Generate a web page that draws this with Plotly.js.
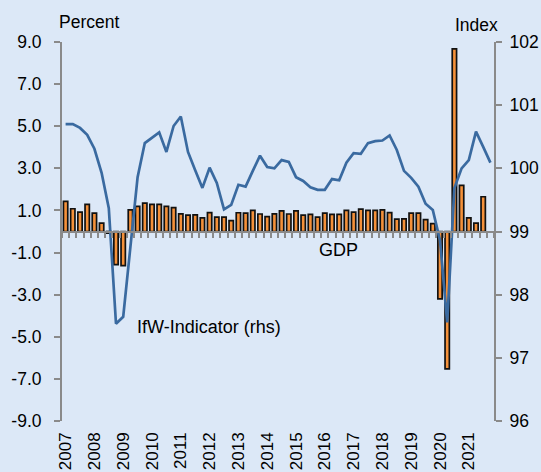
<!DOCTYPE html>
<html>
<head>
<meta charset="utf-8">
<script src="https://cdn.plot.ly/plotly-3.0.1.min.js"></script>
<style>
  html, body { margin: 0; padding: 0; background: #DCE8F7; }
  #chart { width: 541px; height: 472px; }
</style>
</head>
<body>
<div id="chart"></div>
<script>
// ---- Data ----
const years = ['2007','2008','2009','2010','2011','2012','2013','2014','2015','2016','2017','2018','2019','2020','2021'];
const quarterNames = ['Q1','Q2','Q3','Q4'];

// GDP, quarter-on-quarter change, percent (2007Q1 .. 2021Q3)
const gdpValues = [
  1.43, 1.08, 0.92, 1.29, 0.87, 0.40, -0.08, -1.57, -1.62, 1.03,
  1.19, 1.35, 1.29, 1.29, 1.19, 1.13, 0.84, 0.78, 0.79, 0.65,
  0.90, 0.68, 0.68, 0.52, 0.89, 0.87, 1.00, 0.83, 0.71, 0.84,
  0.98, 0.83, 0.98, 0.78, 0.81, 0.68, 0.87, 0.81, 0.81, 1.00,
  0.92, 1.06, 1.00, 1.00, 1.03, 0.90, 0.59, 0.60, 0.87, 0.87,
  0.56, 0.37, -3.20, -6.52, 8.67, 2.19, 0.65, 0.40, 1.65
];

// IfW-Indicator, index (rhs) (2007Q1 .. 2021Q4)
const ifwValues = [
  100.70, 100.70, 100.64, 100.53, 100.31, 99.93, 99.37, 97.54, 97.65, 98.81,
  99.86, 100.40, 100.48, 100.57, 100.26, 100.67, 100.82, 100.26, 99.97, 99.69,
  100.01, 99.77, 99.35, 99.42, 99.74, 99.71, 99.96, 100.20, 100.02, 100.00,
  100.13, 100.10, 99.86, 99.80, 99.70, 99.66, 99.66, 99.83, 99.81, 100.09,
  100.24, 100.23, 100.40, 100.43, 100.44, 100.52, 100.29, 99.96, 99.85, 99.71,
  99.44, 99.34, 98.86, 97.56, 99.69, 100.00, 100.13, 100.58, 100.34, 100.09
];

const leftTickVals = [-9, -7, -5, -3, -1, 1, 3, 5, 7, 9];
const leftTickText = ['-9.0', '-7.0', '-5.0', '-3.0', '-1.0', '1.0', '3.0', '5.0', '7.0', '9.0'];
const rightTickVals = [96, 97, 98, 99, 100, 101, 102];
const rightTickText = ['96', '97', '98', '99', '100', '101', '102'];

// ---- Build ----
const quarters = [];
years.forEach(y => quarterNames.forEach(q => quarters.push(y + q)));
const idx = quarters.map((q, i) => i);
const gdpX = idx.slice(0, gdpValues.length);
const ifwX = idx.slice(0, ifwValues.length);
const yearTickVals = years.map(y => quarters.indexOf(y + 'Q1'));
const boundaryTicks = [-0.5].concat(idx.map(i => i + 0.5));
const xRange = [-0.5, quarters.length - 0.5];

const axisGray = '#8A8A8A';
const fontFamily = 'Liberation Sans, Arial, sans-serif';

const traces = [
  {
    type: 'bar',
    x: gdpX,
    y: gdpValues,
    xaxis: 'x',
    yaxis: 'y',
    width: 0.6,
    marker: { color: '#F5913A', line: { color: '#111111', width: 1.7 } },
    hoverinfo: 'skip',
    showlegend: false
  },
  {
    type: 'scatter',
    mode: 'lines',
    x: ifwX,
    y: ifwValues,
    xaxis: 'x2',
    yaxis: 'y2',
    line: { color: '#3A6AA0', width: 2.7 },
    hoverinfo: 'skip',
    showlegend: false
  }
];

const layout = {
  width: 541,
  height: 472,
  margin: { l: 62, r: 47, t: 42, b: 51 },
  paper_bgcolor: '#DCE8F7',
  plot_bgcolor: '#DCE8F7',
  font: { family: fontFamily, size: 17.5, color: '#000000' },
  showlegend: false,
  bargap: 0,
  xaxis: {
    range: xRange,
    showgrid: false,
    zeroline: false,
    showline: false,
    ticks: '',
    tickvals: yearTickVals,
    ticktext: years,
    tickangle: -90,
    tickfont: { size: 17 },
    ticklabelstandoff: 7
  },
  xaxis2: {
    overlaying: 'x',
    anchor: 'free',
    position: 0.5,
    range: xRange,
    showgrid: false,
    zeroline: false,
    showline: true,
    linecolor: axisGray,
    linewidth: 2,
    ticks: 'outside',
    tickvals: boundaryTicks,
    ticklen: 5,
    tickwidth: 2,
    tickcolor: axisGray,
    showticklabels: false
  },
  yaxis: {
    range: [-9, 9],
    domain: [0, 1],
    showgrid: false,
    zeroline: false,
    showline: true,
    linecolor: axisGray,
    linewidth: 2,
    ticks: 'outside',
    ticklen: 6,
    tickwidth: 2,
    tickcolor: axisGray,
    tickvals: leftTickVals,
    ticktext: leftTickText,
    ticklabelstandoff: 9
  },
  yaxis2: {
    overlaying: 'y',
    side: 'right',
    anchor: 'x',
    range: [96, 102],
    showgrid: false,
    zeroline: false,
    showline: true,
    linecolor: axisGray,
    linewidth: 2,
    ticks: 'outside',
    ticklen: 6,
    tickwidth: 2,
    tickcolor: axisGray,
    tickvals: rightTickVals,
    ticktext: rightTickText,
    ticklabelstandoff: 4
  },
  annotations: [
    { text: 'Percent', xref: 'paper', yref: 'paper', x: -0.012, y: 1.052, xanchor: 'left', yanchor: 'middle', showarrow: false, font: { size: 17.5 } },
    { text: 'Index', xref: 'paper', yref: 'paper', x: 0.96, y: 1.045, xanchor: 'center', yanchor: 'middle', showarrow: false, font: { size: 17.5 } },
    { text: 'GDP', xref: 'paper', yref: 'paper', x: 0.639, y: 0.451, xanchor: 'center', yanchor: 'middle', showarrow: false, font: { size: 18 } },
    { text: 'IfW-Indicator (rhs)', xref: 'paper', yref: 'paper', x: 0.340, y: 0.247, xanchor: 'center', yanchor: 'middle', showarrow: false, font: { size: 18 } }
  ]
};

Plotly.newPlot('chart', traces, layout, { displayModeBar: false, staticPlot: true });
</script>
</body>
</html>
